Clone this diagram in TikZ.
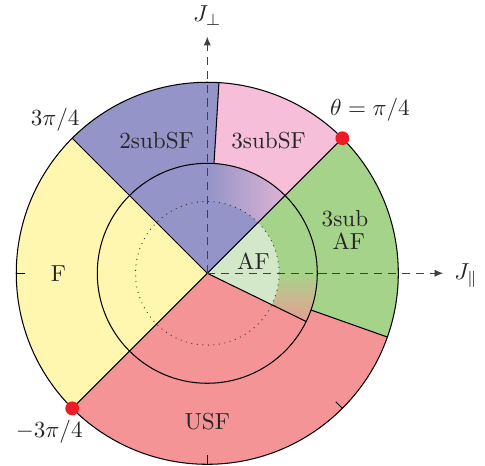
\documentclass[tikz,border=0pt]{standalone}
\usepackage{amsmath}
\usetikzlibrary{arrows.meta, calc}
\definecolor{cBlue}{RGB}{148,148,200}
\definecolor{cPink}{RGB}{246,190,216}
\definecolor{cGreen}{RGB}{166,211,138}
\definecolor{cLight}{RGB}{210,232,200}
\definecolor{cYellow}{RGB}{255,247,175}
\definecolor{cRed}{RGB}{244,148,150}
\definecolor{cDot}{RGB}{237,28,36}
\newcommand{\rOut}{2.9}
\newcommand{\rIn}{1.67}
\newcommand{\rDot}{1.09}
\tikzset{
	axisline/.style={black!75, dash pattern=on 3.5pt off 2.5pt, -{Latex[length=1.3mm, width=1.1mm]}},
	border/.style={black, line width=0.45pt},
	tickmark/.style={black, line width=0.45pt},
	reddot/.style={circle, fill=cDot, inner sep=0pt, minimum size=2.1mm},
	lbl/.style={text=black!85, inner sep=1pt},
}

\begin{document}
\begin{tikzpicture}
	\useasboundingbox (-3.147,-2.925) rectangle (4.216,4.149);
	\coordinate (O) at (0,0);
	% phase regions
	\fill[cYellow] (O) -- (135:\rOut) arc[start angle=135, end angle=225, radius=\rOut] -- cycle;
	\fill[cRed] (O) -- (225:\rOut) arc[start angle=225, end angle=340.5, radius=\rOut] -- (-19.5:\rIn) arc[start angle=-19.5, end angle=-26, radius=\rIn] -- cycle;
	\fill[cGreen] (O) -- (-26:\rIn) arc[start angle=-26, end angle=-19.5, radius=\rIn] -- (-19.5:\rOut) arc[start angle=-19.5, end angle=45, radius=\rOut] -- cycle;
	\fill[cPink] (45:\rOut) arc[start angle=45, end angle=86.5, radius=\rOut] -- (86.5:\rIn) arc[start angle=86.5, end angle=45, radius=\rIn] -- cycle;
	\fill[cBlue] (O) -- (45:\rIn) arc[start angle=45, end angle=86.5, radius=\rIn] -- (86.5:\rOut) arc[start angle=86.5, end angle=135, radius=\rOut] -- cycle;
	\begin{scope}
		\clip (45:\rDot) -- (45:\rIn) arc[start angle=45, end angle=90, radius=\rIn] -- (90:\rDot) arc[start angle=90, end angle=45, radius=\rDot] -- cycle;
		\shade[left color=cBlue, right color=cPink!75!cBlue] (0,0) rectangle (1.19,\rIn);
	\end{scope}
	\begin{scope}
		\clip (0:\rDot) -- (0:\rIn) arc[start angle=0, end angle=-26, radius=\rIn] -- (-26:\rDot) arc[start angle=-26, end angle=0, radius=\rDot] -- cycle;
		\shade[top color=cGreen, bottom color=cRed!85!cGreen] (0,0) rectangle (\rIn,-0.74);
	\end{scope}
	\fill[cLight] (O) -- (-26:\rDot) arc[start angle=-26, end angle=45, radius=\rDot] -- cycle;
	% circles and boundaries
	\draw[border] (O) circle[radius=\rOut];
	\draw[border] (O) circle[radius=\rIn];
	\draw[black!80, densely dotted, line width=0.4pt, dash pattern=on 0.4pt off 2pt] (O) circle[radius=\rDot];
	\draw[border] (135:\rOut) -- (O) -- (225:\rOut);
	\draw[border] (O) -- (45:\rOut);
	\draw[border] (O) -- (-26:\rIn);
	\draw[border] (-19.5:\rIn) -- (-19.5:\rOut);
	\draw[border] (86.5:\rIn) -- (86.5:\rOut);
	\foreach \ang in {180, 270, 315} {
		\draw[tickmark] (\ang:\rOut) -- (\ang:\rOut-0.14);
	}
	% axes
	\coordinate (Jx) at (3.58,0);
	\coordinate (Jy) at (0,3.59);
	\draw[axisline] (O) -- (Jx);
	\draw[axisline] (O) -- (Jy);
	\node[lbl] (lJx) at (3.93,-0.03) {$J_\parallel$};
	\node[lbl] (lJy) at (0,3.91) {$J_\perp$};
	% special points
	\node[reddot] (pA) at (45:\rOut) {};
	\node[reddot] (pB) at (225:\rOut) {};
	\node[lbl] (tA) at (2.47,2.48) {$\theta=\pi/4$};
	\node[lbl] (tB) at (-2.40,-2.40) {$-3\pi/4$};
	\node[lbl] (tC) at (-2.31,2.33) {$3\pi/4$};
	% phase names
	\node[lbl] (n2s) at (-0.77,2.02) {2subSF};
	\node[lbl] (n3s) at (0.93,2.02) {3subSF};
	\node[lbl, align=center] (n3a) at (2.09,0.66) {3sub\\[-2pt]\,\,AF};
	\node[lbl] (naf) at (0.70,0.18) {AF};
	\node[lbl] (nf) at (-2.26,0) {F};
	\node[lbl] (nu) at (0,-2.25) {USF};
\end{tikzpicture}
\end{document}
